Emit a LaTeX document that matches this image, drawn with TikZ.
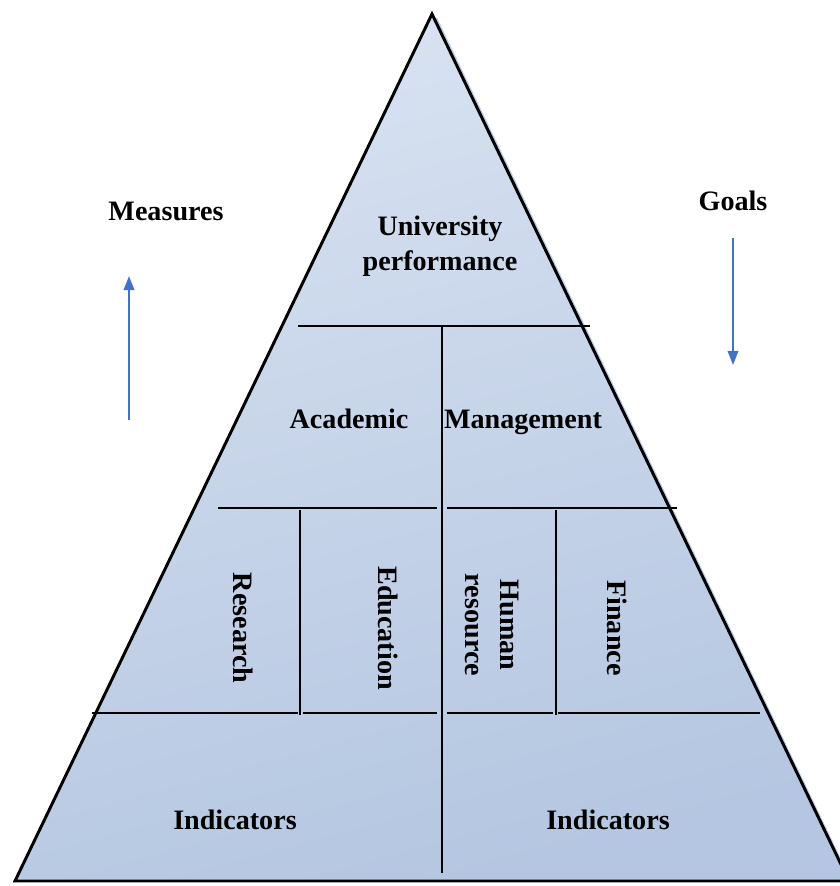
\documentclass[tikz,border=0pt]{standalone}
\usepackage{fontspec}
\setmainfont{Liberation Serif}
\usetikzlibrary{arrows.meta}
\definecolor{pyrtop}{RGB}{216,226,241}
\definecolor{pyrbot}{RGB}{180,198,225}
\definecolor{arrblue}{RGB}{68,114,196}
\def\hseg(#1:#2:#3){\draw[inner] (#1,#3) -- (#2,#3);}

\begin{document}
\begin{tikzpicture}[x=0.025cm, y=-0.025cm,
	lbl/.style={font=\fontsize{20}{25}\selectfont\bfseries, align=center, inner sep=0pt},
	inner/.style={line width=0.9pt},
	updown/.style={arrblue, line width=1.4pt, -{Triangle[length=10pt, width=7.5pt]}}]
		%%%%% START %%%%%
		\useasboundingbox (0,0) rectangle (840,886);
		
		% shadow and body of the pyramid
		\draw[arrblue!35, line width=1.5pt] (436,18) -- (852,884);
		\shade[top color=pyrtop, bottom color=pyrbot, shading angle=15] (432,14) -- (15,881) -- (849,881) -- cycle;
		\draw[line width=2.1pt, line join=miter] (432,14) -- (15,881) -- (849,881) -- cycle;
		
		% levels
		\hseg(298:590:326)
		\hseg(218:437:508)
		\hseg(447:677:508)
		\hseg(92:298:713)
		\hseg(303:437:713)
		\hseg(447:553:713)
		\hseg(558:760:713)
		\draw[inner] (442,327) -- (442,873);
		\draw[inner] (300,510) -- (300,715);
		\draw[inner] (556,510) -- (556,715);
		
		% labels
		\node[lbl] (univ) at (440,246) {University\\performance};
		\node[lbl, anchor=base] (acad) at (349,428) {Academic};
		\node[lbl, anchor=base] (mgmt) at (523,428) {Management};
		\node[lbl, rotate=-90] (res) at (243,628) {Research};
		\node[lbl, rotate=-90] (edu) at (388,628) {Education};
		\node[lbl, rotate=-90] (hr) at (492,625) {Human\\resource};
		\node[lbl, rotate=-90] (fin) at (617,628) {Finance};
		\node[lbl] (indl) at (235,820) {Indicators};
		\node[lbl] (indr) at (608,820) {Indicators};
		
		% side arrows
		\node[lbl] (meas) at (166,211) {Measures};
		\node[lbl] (goals) at (733,201) {Goals};
		\coordinate (measfrom) at (129,420);
		\coordinate (measto) at (129,276);
		\coordinate (goalsfrom) at (733,238);
		\coordinate (goalsto) at (733,365);
		\draw[updown] (measfrom) -- (measto);
		\draw[updown] (goalsfrom) -- (goalsto);
		%%%%% END %%%%%
\end{tikzpicture}
\end{document}
